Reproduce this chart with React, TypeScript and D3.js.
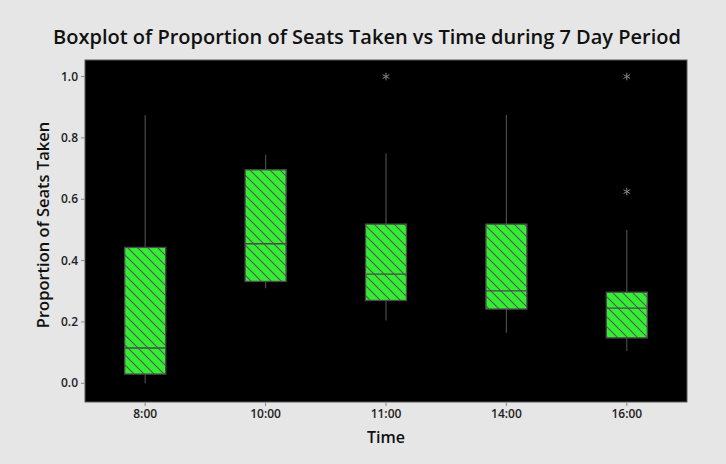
import React from "react";
import * as d3 from "d3";

const categories = ["8:00", "10:00", "11:00", "14:00", "16:00"];
const whiskerLow = [0.0, 0.31, 0.205, 0.165, 0.105];
const q1 = [0.03, 0.332, 0.27, 0.242, 0.148];
const median = [0.115, 0.455, 0.356, 0.301, 0.245];
const q3 = [0.443, 0.696, 0.519, 0.519, 0.297];
const whiskerHigh = [0.875, 0.745, 0.75, 0.875, 0.5];
const outliers: number[][] = [[], [], [1.0], [], [1.0, 0.625]];
const yTicks = [0.0, 0.2, 0.4, 0.6, 0.8, 1.0];

const W = 726;
const H = 464;
const plot = { left: 85, right: 687, top: 60, bottom: 402 };
const FONT = "'Open Sans', 'Noto Sans', sans-serif";

export default function App() {
  const x = d3.scaleBand<string>().domain(categories).range([plot.left, plot.right]).padding(0);
  const y = d3.scaleLinear().domain([-0.061, 1.054]).range([plot.bottom, plot.top]);
  const boxW = 41;
  const grey = "#4a4a4a";

  const star = (cx: number, cy: number, key: string) => {
    const r = 3.8;
    const angles = [90, 30, 150];
    return (
      <g key={key} stroke="#8a8a8a" strokeWidth={1}>
        {angles.map((a) => {
          const rad = (a * Math.PI) / 180;
          return (
            <line
              key={a}
              x1={cx - r * Math.cos(rad)}
              y1={cy - r * Math.sin(rad)}
              x2={cx + r * Math.cos(rad)}
              y2={cy + r * Math.sin(rad)}
            />
          );
        })}
      </g>
    );
  };

  return (
    <svg
      width={W}
      height={H}
      style={{ position: "fixed", left: 0, top: 0, display: "block" }}
      fontFamily={FONT}
    >
      <defs>
        <pattern id="hatch" patternUnits="userSpaceOnUse" width={10} height={10}>
          <rect width={10} height={10} fill="#33ee33" />
          <line x1={0} y1={0} x2={10} y2={10} stroke="#555" strokeWidth={1.1} />
          <line x1={-1} y1={9} x2={1} y2={11} stroke="#555" strokeWidth={1.1} />
          <line x1={9} y1={-1} x2={11} y2={1} stroke="#555" strokeWidth={1.1} />
        </pattern>
      </defs>
      <rect x={0} y={0} width={W} height={H} fill="#e6e6e6" />
      <text
        x={367}
        y={44}
        textAnchor="middle"
        fontSize={20}
        fontWeight={600}
        fill="#111"
      >
        Boxplot of Proportion of Seats Taken vs Time during 7 Day Period
      </text>

      <rect
        x={plot.left}
        y={plot.top}
        width={plot.right - plot.left}
        height={plot.bottom - plot.top}
        fill="#000"
        stroke="#5a5a5a"
        strokeWidth={1}
      />

      {/* y ticks */}
      {yTicks.map((t) => (
        <g key={t}>
          <line x1={plot.left - 4} x2={plot.left} y1={y(t)} y2={y(t)} stroke="#888" />
          <text
            x={plot.left - 7}
            y={y(t)}
            dy="0.35em"
            textAnchor="end"
            fontSize={12}
            fontWeight={600}
            fill="#222"
          >
            {t.toFixed(1)}
          </text>
        </g>
      ))}

      {/* x ticks */}
      {categories.map((c) => {
        const cx = (x(c) as number) + x.bandwidth() / 2;
        return (
          <g key={c}>
            <line x1={cx} x2={cx} y1={plot.bottom} y2={plot.bottom + 4} stroke="#888" />
            <text x={cx} y={418} textAnchor="middle" fontSize={12} fontWeight={600} fill="#222">
              {c}
            </text>
          </g>
        );
      })}

      {/* boxes */}
      {categories.map((c, i) => {
        const cx = (x(c) as number) + x.bandwidth() / 2;
        return (
          <g key={c}>
            <line x1={cx} x2={cx} y1={y(whiskerHigh[i])} y2={y(q3[i])} stroke={grey} strokeWidth={1.2} />
            <line x1={cx} x2={cx} y1={y(q1[i])} y2={y(whiskerLow[i])} stroke={grey} strokeWidth={1.2} />
            <rect
              x={cx - boxW / 2}
              y={y(q3[i])}
              width={boxW}
              height={y(q1[i]) - y(q3[i])}
              fill="url(#hatch)"
              stroke={grey}
              strokeWidth={1.3}
            />
            <line
              x1={cx - boxW / 2}
              x2={cx + boxW / 2}
              y1={y(median[i])}
              y2={y(median[i])}
              stroke={grey}
              strokeWidth={1.3}
            />
            {outliers[i].map((o, j) => star(cx, y(o), `${c}-${j}`))}
          </g>
        );
      })}

      <text x={386} y={443} textAnchor="middle" fontSize={16} fontWeight={600} fill="#111">
        Time
      </text>
      <text
        transform={`translate(43.5, ${(plot.top + plot.bottom) / 2 - 6}) rotate(-90)`}
        textAnchor="middle"
        dy="0.35em"
        fontSize={16.5}
        fontWeight={600}
        fill="#111"
      >
        Proportion of Seats Taken
      </text>
    </svg>
  );
}
